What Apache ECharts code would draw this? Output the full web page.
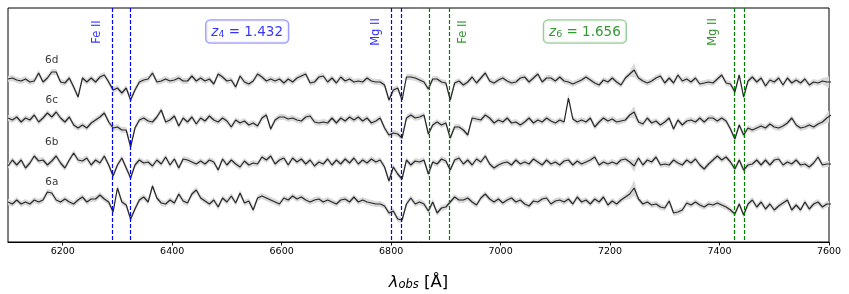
<!DOCTYPE html>
<html><head><meta charset="utf-8">
<script src="https://cdn.jsdelivr.net/npm/echarts@6/dist/echarts.min.js"></script>
<style>html,body{margin:0;padding:0;background:#fff}#c{width:849px;height:294px}</style>
</head><body><div id="c"></div>
<script>
// wavelength grid (Angstrom)
const WAVE_START = 6100, WAVE_STEP = 8, N_POINTS = 189;

// relative flux of each spectrum (arbitrary units, 0 = continuum)
const FLUX_6d = [1,2,0,-1,1,-2,-1,7,-2,2,8,8,-2,-3,2,-7,-17,2,-2,2,-2,3,5,-2,-10,-8,-13,-8,-20,-10,-2,0,
 1,7,-2,-1,1,-1,0,2,-1,-1,4,-1,2,-1,1,-4,6,3,-1,0,-7,4,-2,-4,-1,6,3,-1,1,-1,1,
 -3,1,-2,2,4,6,-3,-2,3,4,-2,2,-3,3,-1,1,-2,-1,-2,2,-1,-2,-2,-5,-20,-10,-8,-20,3,3,
 2,0,-2,-9,1,1,-2,-3,-20,-3,-1,-5,-2,3,-3,2,7,-1,-3,0,2,-1,-3,-2,2,3,-2,2,6,-2,2,
 2,-1,3,-1,-2,-4,-2,0,3,0,-3,-5,0,-2,2,-2,-5,2,6,10,2,-1,-3,-1,2,4,-3,2,-3,5,-1,
 1,-2,2,-4,-3,-2,-3,1,5,-3,-4,-12,5,-17,-1,3,-2,2,-6,0,-2,2,-5,2,-3,0,-3,1,-5,-2,-3,-1,-2,-2];
const FLUX_6c = [2,0,3,-2,2,0,5,-2,2,7,3,8,2,-2,3,-5,-8,-5,-8,-3,0,3,7,-2,-8,-7,-10,-10,-27,-8,0,2,
 -1,-2,3,10,-2,0,4,-6,2,-2,3,-4,2,-1,4,0,-2,2,-1,-7,0,-3,-1,-5,-3,-6,2,5,-9,0,3,
 3,1,2,0,-1,3,4,-2,-3,-2,-3,2,-3,2,-1,3,0,3,-1,2,-3,-1,2,-8,-15,-13,-14,-18,2,5,
 2,3,5,-14,-5,-2,-5,-3,-18,-7,-7,-10,-15,2,1,0,5,2,-3,0,-2,2,-3,-2,-5,-2,2,-3,0,-2,2,
 -1,-3,0,-2,22,1,-2,0,-2,2,-7,-2,2,-1,1,-2,-1,0,5,8,-2,-4,2,-3,-1,-5,-2,2,-9,0,-5,
 -1,0,-2,2,-2,2,2,-1,2,-1,-9,-19,-5,-15,-8,-10,-8,-6,-8,-4,-7,-8,-6,-3,2,-5,-8,-7,-5,-7,-4,-2,2,5];
const FLUX_6b = [-4,2,-3,2,-6,-1,6,1,2,-3,1,6,-1,-6,2,9,2,1,4,-3,2,-1,6,-3,-14,-3,4,-6,-16,-3,2,-1,
 0,-4,2,-2,5,-3,3,-6,3,2,0,-2,1,-2,2,0,-8,3,-3,2,-2,-5,1,-3,-1,-2,5,2,6,-2,2,
 4,-3,4,0,3,-2,2,-4,0,-2,3,-3,2,-2,3,-1,4,-2,2,-1,3,0,2,-5,-19,-5,-12,-17,2,-3,
 1,0,2,-12,0,-2,3,1,-8,2,4,-2,2,-3,3,0,6,-2,-6,-3,-1,0,-3,2,-2,0,-2,3,0,-3,2,
 -2,0,-3,1,2,-3,1,-2,0,2,5,-3,0,-2,0,-2,2,3,0,-4,4,-3,2,0,5,-3,-2,-3,2,-1,-3,
 2,-1,3,-3,-7,-2,2,6,2,5,0,-7,2,-8,-3,-2,2,-3,2,-3,2,3,-3,0,-2,2,-3,-2,-5,-1,5,-3,-2,-2];
const FLUX_6a = [0,-2,2,-2,0,-2,2,0,2,10,9,2,0,3,0,-2,2,5,0,3,3,7,3,0,-10,14,0,-3,-17,-7,2,5,
 0,16,4,-1,-2,2,-1,8,1,-1,8,12,4,1,-2,2,-5,4,0,6,-1,9,-1,1,-8,4,6,4,2,0,-2,
 4,2,6,3,5,2,0,2,3,0,2,0,-2,2,3,0,5,0,2,0,-1,-2,-2,-4,-11,-9,-17,-18,-2,4,
 -2,0,-2,-9,0,-11,-6,-5,0,5,2,2,4,0,-3,4,8,3,0,3,-1,2,4,0,2,-2,-4,1,0,3,4,
 -2,1,2,0,3,-2,5,0,2,-2,3,0,5,-3,1,-2,2,5,8,14,3,-2,0,-3,-2,-5,-6,1,-11,-10,-8,
 -1,-3,0,-3,-5,-2,-3,-1,-3,-5,-8,-12,-2,-13,-2,2,-5,0,-7,-2,-8,-4,-1,2,-8,-3,-8,0,-7,-2,0,-5,-2,-2];

// vertical offsets used to stack the spectra
const OFFSET_6a = 0, OFFSET_6b = 40, OFFSET_6c = 82, OFFSET_6d = 122;

// 1-sigma error: typical value and the few wider spots [index, sigma]
const ERR_BASE = 3.1;
const ERR_SPOTS_6a = [[142, 5], [143, 8]];
const ERR_SPOTS_6b = [[143, 6]];
const ERR_SPOTS_6c = [[128, 4.5], [143, 6], [187, 5], [188, 7]];
const ERR_SPOTS_6d = [[143, 7], [187, 5], [188, 7]];

// absorption lines
const LINES_Z4 = [6290.7, 6323.6, 6800.7, 6818.2];   // z4 = 1.432 (blue)
const LINES_Z6 = [6870.1, 6906.1, 7427.1, 7446.2];   // z6 = 1.656 (green)
const ION_LABELS_Z4 = [['Fe II', 6263], ['Mg II', 6773]];
const ION_LABELS_Z6 = [['Fe II', 6931], ['Mg II', 7389]];
const Z4_TEXT = '1.432', Z6_TEXT = '1.656';
const Z4_POS = 6537, Z6_POS = 7154;

const X_TICKS = [6200, 6400, 6600, 6800, 7000, 7200, 7400, 7600];
const X_MIN = 6100, X_MAX = 7600, Y_MIN = -40, Y_MAX = 194;

const WAVE = [];
for (let i = 0; i < N_POINTS; i++) WAVE.push(WAVE_START + i * WAVE_STEP);

const SPECTRA = [
  {name: '6a', flux: FLUX_6a, off: OFFSET_6a, spots: ERR_SPOTS_6a},
  {name: '6b', flux: FLUX_6b, off: OFFSET_6b, spots: ERR_SPOTS_6b},
  {name: '6c', flux: FLUX_6c, off: OFFSET_6c, spots: ERR_SPOTS_6c},
  {name: '6d', flux: FLUX_6d, off: OFFSET_6d, spots: ERR_SPOTS_6d}
];
SPECTRA.forEach(s => {
  s.err = s.flux.map(() => ERR_BASE);
  s.spots.forEach(([i, e]) => { s.err[i] = e; });
});

const FONT = 'DejaVu Sans';
const series = [];

// error bands: one polygon per spectrum, placed through the axes
series.push({
  type: 'custom', silent: true, z: 1, clip: true,
  data: SPECTRA.map((s, k) => [k]),
  encode: {x: -1, y: -1},
  renderItem: function (params, api) {
    const s = SPECTRA[api.value(0)];
    const up = [], lo = [];
    s.flux.forEach((v, i) => {
      up.push(api.coord([WAVE[i], s.off + v + s.err[i]]));
      lo.push(api.coord([WAVE[i], s.off + v - s.err[i]]));
    });
    const pts = up.concat(lo.reverse());
    const cs = params.coordSys;
    return {
      type: 'polygon',
      shape: {points: pts},
      style: {fill: '#d9d9d9', stroke: null},
      clipPath: {type: 'rect', shape: {x: cs.x, y: cs.y, width: cs.width, height: cs.height}}
    };
  }
});

SPECTRA.forEach(s => {
  series.push({
    type: 'line', silent: true, symbol: 'none', z: 3,
    lineStyle: {color: '#262626', width: 1.2},
    data: s.flux.map((v, i) => [WAVE[i], s.off + v])
  });
});

// dashed absorption-line markers
const LINE_ITEMS = LINES_Z4.map(v => [v, 0]).concat(LINES_Z6.map(v => [v, 1]));
const LINE_COLORS = ['#0000ff', '#008000'];
series.push({
  type: 'custom', silent: true, z: 5,
  data: LINE_ITEMS,
  encode: {x: 0, y: -1},
  renderItem: function (params, api) {
    const x = api.value(0);
    const p0 = api.coord([x, Y_MIN]);
    const p1 = api.coord([x, Y_MAX]);
    const px = Math.floor(p0[0]) + 0.5;
    return {
      type: 'line',
      shape: {x1: px, y1: p1[1], x2: px, y2: p0[1]},
      style: {stroke: LINE_COLORS[api.value(1)], lineWidth: 1.2, lineDash: [4, 2]}
    };
  }
});

function zLabel(sub, txt, color, border) {
  return {
    show: true, position: 'inside',
    formatter: '{i|z}{s|' + sub + '}{n| = ' + txt + '}',
    backgroundColor: '#fff', borderColor: border, borderWidth: 1.3, borderRadius: 4,
    padding: [3, 5, 3, 5],
    rich: {
      i: {fontFamily: FONT, fontStyle: 'italic', fontSize: 13.5, color: color, lineHeight: 16, verticalAlign: 'bottom'},
      s: {fontFamily: FONT, fontSize: 9.5, color: color, lineHeight: 13, verticalAlign: 'bottom'},
      n: {fontFamily: FONT, fontSize: 13.5, color: color, lineHeight: 16, verticalAlign: 'bottom'}
    }
  };
}

const textData = [];
SPECTRA.forEach(s => {
  textData.push({value: [6180, s.off + 20], label: {show: true, position: 'inside', formatter: s.name,
    fontFamily: FONT, fontSize: 10.5, color: '#000'}});
});
ION_LABELS_Z4.forEach(([t, x]) => textData.push({value: [x, 170], label: {show: true, position: 'inside',
  formatter: t, rotate: 90, fontFamily: FONT, fontSize: 11.5, color: '#0000ff'}}));
ION_LABELS_Z6.forEach(([t, x]) => textData.push({value: [x, 170], label: {show: true, position: 'inside',
  formatter: t, rotate: 90, fontFamily: FONT, fontSize: 11.5, color: '#008000'}}));
textData.push({value: [Z4_POS, 170.5], label: zLabel('4', Z4_TEXT, '#0000ff', 'rgba(0,0,255,0.5)')});
textData.push({value: [Z6_POS, 170.5], label: zLabel('6', Z6_TEXT, '#008000', 'rgba(0,128,0,0.5)')});

series.push({type: 'scatter', symbolSize: 0, silent: true, z: 10, data: textData});

const chart = echarts.init(document.getElementById('c'), null, {renderer: 'canvas'});
chart.setOption({
  animation: false,
  backgroundColor: '#fff',
  grid: {left: 8, right: 20, top: 8, bottom: 52, show: true, borderColor: '#000', borderWidth: 1,
    backgroundColor: 'transparent', containLabel: false, outerBoundsMode: 'none'},
  xAxis: {
    type: 'value', min: X_MIN, max: X_MAX,
    name: '{l|λ}{s|obs}{n| [Å]}', nameLocation: 'middle', nameGap: 29,
    nameTextStyle: {
      rich: {
        l: {fontFamily: FONT, fontStyle: 'italic', fontSize: 16.5, color: '#000', lineHeight: 20, verticalAlign: 'bottom'},
        s: {fontFamily: FONT, fontStyle: 'italic', fontSize: 11.5, color: '#000', lineHeight: 15, verticalAlign: 'bottom'},
        n: {fontFamily: FONT, fontSize: 16.5, color: '#000', lineHeight: 20, verticalAlign: 'bottom'}
      }
    },
    splitLine: {show: false},
    axisLine: {show: true, onZero: false, lineStyle: {color: '#000', width: 1}},
    axisTick: {show: true, customValues: X_TICKS, length: 3.5, lineStyle: {color: '#000', width: 0.9}},
    axisLabel: {show: true, customValues: X_TICKS, margin: 5, fontFamily: FONT, fontSize: 9.5, color: '#000',
      formatter: v => String(v)}
  },
  yAxis: {type: 'value', min: Y_MIN, max: Y_MAX, show: false},
  series: series
});
</script>
</body></html>
